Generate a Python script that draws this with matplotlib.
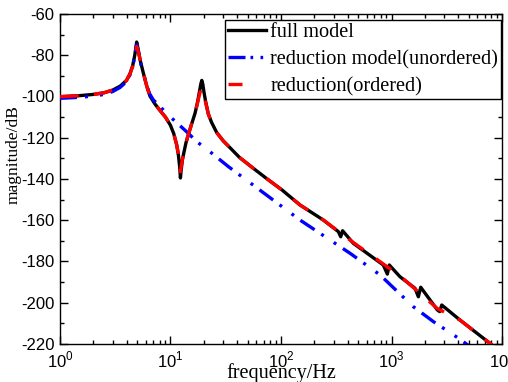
import numpy as np
import matplotlib
matplotlib.use("Agg")
import matplotlib.pyplot as plt
from matplotlib.ticker import MultipleLocator, LogLocator, NullFormatter

plt.rcParams['font.family'] = 'Liberation Sans'
plt.rcParams['axes.unicode_minus'] = False
plt.rcParams['mathtext.fontset'] = 'custom'
plt.rcParams['mathtext.rm'] = 'Liberation Sans'

# values (frequency in Hz, magnitude in dB)
full_f = [1.0, 1.5, 2.0, 2.5, 3.0, 3.5, 4.0, 4.3, 4.55, 4.75, 4.87, 4.94, 5.02, 5.15,
          5.35, 5.67, 6.1, 6.52, 7.2, 8.04, 9.0, 10.0, 10.7, 11.38, 11.8, 12.1, 12.3,
          12.5, 12.8, 13.06, 13.8, 14.5, 15.5, 16.7, 17.6, 18.3, 18.8, 19.2, 19.6,
          20.1, 20.8, 22.0, 23.5, 26.2, 30.0, 34.5, 42.0, 56.1, 75.0, 102, 148.6,
          241.5, 330, 347, 361, 451.6, 843, 917, 955, 1194, 1632, 1750, 1838, 2600,
          2730, 2850, 4169, 7786, 8600]
full_db = [-100.1, -99.6, -99.0, -98.2, -96.9, -95.0, -92.2, -89.0, -85.0, -80.0,
           -76.0, -73.6, -75.2, -78.5, -83.0, -88.5, -95.0, -99.8, -103.5, -106.8,
           -110.0, -114.0, -118.0, -123.5, -128.5, -134.0, -139.5, -135.5, -131.0,
           -128.5, -122.5, -118.5, -113.5, -108.0, -102.5, -97.5, -94.0, -92.2, -94.0,
           -98.0, -102.5, -108.5, -112.5, -117.5, -121.5, -124.8, -129.5, -134.8,
           -140.0, -145.3, -152.6, -159.9, -165.5, -168.0, -165.1, -171.2, -181.7,
           -186.1, -181.7, -187.4, -193.0, -197.1, -192.5, -203.5, -204.3, -201.1,
           -208.4, -219.7, -221.5]

red_f = [1.0, 1.5, 2.0, 2.5, 3.0, 3.5, 4.0, 4.3, 4.55, 4.75, 4.87, 4.94, 5.02, 5.15,
         5.35, 5.67, 6.1, 6.52, 7.2, 8.04, 9.0, 10.0, 10.7, 11.38, 11.8, 12.1, 12.3,
         12.5, 12.8, 13.06, 13.8, 14.5, 15.5, 16.7, 17.6, 18.3, 18.8, 19.2, 19.6,
         20.1, 20.8, 22.0, 23.5, 26.2, 30.0, 34.5, 42.0, 56.1, 75.0, 102, 148.6,
         241.5, 451.6, 843, 1194, 2600, 4169, 7786, 8600]
red_db = [-100.1, -99.6, -99.0, -98.2, -96.9, -95.0, -92.2, -89.0, -85.5, -81.0,
          -77.5, -75.8, -76.8, -79.0, -83.0, -88.5, -95.0, -99.8, -103.5, -106.8,
          -110.0, -114.0, -118.0, -123.5, -128.0, -132.5, -136.5, -134.0, -130.5,
          -128.5, -122.5, -118.5, -113.5, -108.0, -103.0, -99.0, -96.8, -96.0, -96.8,
          -99.5, -103.0, -108.5, -112.5, -117.5, -121.5, -124.8, -129.5, -134.8,
          -140.0, -145.3, -152.6, -159.9, -170.8, -181.2, -187.0, -202.8, -208.4,
          -219.7, -221.5]

blue_f = [1.0, 1.5, 2.0, 2.5, 3.0, 3.5, 4.0, 4.3, 4.55, 4.75, 4.87, 4.94, 5.02, 5.15,
          5.35, 5.67, 6.1, 6.52, 7.0, 7.8, 9.2, 14.0, 17.3, 22.8, 33.4, 55.8, 148.6,
          421, 787, 1574, 2386, 4169, 5100]
blue_db = [-100.9, -100.4, -99.8, -99.0, -97.6, -95.6, -92.8, -89.5, -85.5, -80.5,
           -76.8, -75.0, -76.5, -79.0, -83.5, -88.5, -95.0, -99.0, -101.7, -104.1,
           -108.2, -117.1, -121.9, -126.8, -134.0, -142.9, -159.9, -176.0, -186.5,
           -201.9, -209.1, -217.7, -221.2]

labels = ['full model', 'reduction model(unordered)', 'reduction(ordered)']
xtick_vals = [1, 10, 100, 1000, 10000]
xtick_text = [r'$10^{0}$', r'$10^{1}$', r'$10^{2}$', r'$10^{3}$', r'$10^{4}$']

fig = plt.figure(figsize=(5.08, 3.82), dpi=100)
ax = fig.add_axes([0.1181, 0.0995, 0.8701, 0.8639])

ax.plot(full_f, full_db, color='black', lw=2.4, label=labels[0], zorder=2)
ax.plot(blue_f, blue_db, color='#0000ff', lw=2.4,
        dashes=(5.1, 2.4, 0.9, 3.6, 0.9, 2.4), label=labels[1], zorder=3)
ax.plot(red_f, red_db, color='#ff0000', lw=2.4, dashes=(5.6, 4.6),
        label=labels[2], zorder=4)

ax.set_xscale('log')
ax.set_xlim(1, 10000)
ax.set_ylim(-220, -60)
ax.set_xticks(xtick_vals)
ax.set_xticklabels(xtick_text)
ax.xaxis.set_minor_locator(LogLocator(base=10, subs=np.arange(2, 10)))
ax.xaxis.set_minor_formatter(NullFormatter())
ax.yaxis.set_major_locator(MultipleLocator(20))
ax.yaxis.set_minor_locator(MultipleLocator(10))

ax.tick_params(which='both', direction='in', top=True, right=True, width=1,
               labelsize=12, pad=4)
ax.tick_params(which='major', length=6)
ax.tick_params(which='minor', length=3)
for s in ax.spines.values():
    s.set_linewidth(1)

ax.set_xlabel('frequency/Hz', family='Liberation Serif', fontsize=14.5, labelpad=-5)
ax.set_ylabel('magnitude/dB', family='Liberation Serif', fontsize=12.5)
ax.yaxis.set_label_coords(-0.086, 0.573)

leg = ax.legend(loc='upper right', bbox_to_anchor=(0.998, 0.982), borderaxespad=0,
                prop={'family': 'Liberation Serif', 'size': 14.6}, frameon=True,
                fancybox=False, edgecolor='black', framealpha=1,
                handlelength=1.9, handletextpad=0.2, borderpad=0.15,
                labelspacing=0.38)
leg.get_frame().set_linewidth(1)
# legend samples drawn like the original: dash + two dots, one red dash
leg_lines = leg.get_lines()
leg_lines[1].set_dashes((5.1, 1.5, 0.8, 2.2, 0.8, 6))
leg_lines[2].set_dashes((4.2, 12))

fig.savefig('out.png', dpi=100)
